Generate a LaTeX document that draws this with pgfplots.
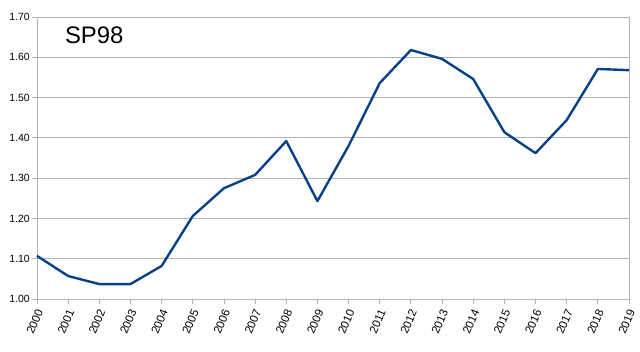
\documentclass[border=0pt]{standalone}
\usepackage{fontspec}
\setmainfont{Liberation Sans}
\usepackage{pgfplots}
\pgfplotsset{compat=1.18}
\usetikzlibrary{calc}
\definecolor{linec}{RGB}{10,64,135}
\definecolor{gridc}{RGB}{180,180,180}
\begin{document}
\begin{tikzpicture}
\begin{axis}[
  scale only axis,
  width=592bp, height=282bp,
  xmin=2000, xmax=2019,
  ymin=1.0, ymax=1.7,
  xtick={2000,...,2019},
  ytick={1.0,1.1,...,1.75},
  ymajorgrids,
  major grid style={gridc, line width=0.8bp},
  axis line style={gridc, line width=0.8bp},
  tick style={gridc, line width=0.8bp},
  tick align=outside,
  major tick length=5bp,
  xtick pos=bottom, ytick pos=left,
  /pgf/number format/assume math mode=true,
  x tick label style={/pgf/number format/1000 sep={}, xshift=4bp, yshift=-3bp, rotate=67, anchor=east, font=\fontsize{11.5}{13}\selectfont, inner sep=3bp},
  y tick label style={/pgf/number format/.cd, fixed, fixed zerofill, precision=2, /tikz/.cd, font=\fontsize{10.5}{12}\selectfont, inner sep=2bp},
  clip=false,
]
\addplot[linec, line width=2.4bp, line join=round] coordinates {
(2000,1.107) (2001,1.057) (2002,1.037) (2003,1.037) (2004,1.082)
(2005,1.206) (2006,1.275) (2007,1.308) (2008,1.392) (2009,1.243)
(2010,1.380) (2011,1.536) (2012,1.618) (2013,1.596) (2014,1.546)
(2015,1.414) (2016,1.362) (2017,1.444) (2018,1.571) (2019,1.568)
};
\node[anchor=north west, inner sep=0pt, font=\fontsize{24}{28}\selectfont] at (rel axis cs:0.047,0.965) {SP98};
\end{axis}
\pgfresetboundingbox
\useasboundingbox ($(current axis.south west)+(-37bp,-53bp)$) rectangle ($(current axis.north east)+(11bp,17bp)$);
\end{tikzpicture}
\end{document}
